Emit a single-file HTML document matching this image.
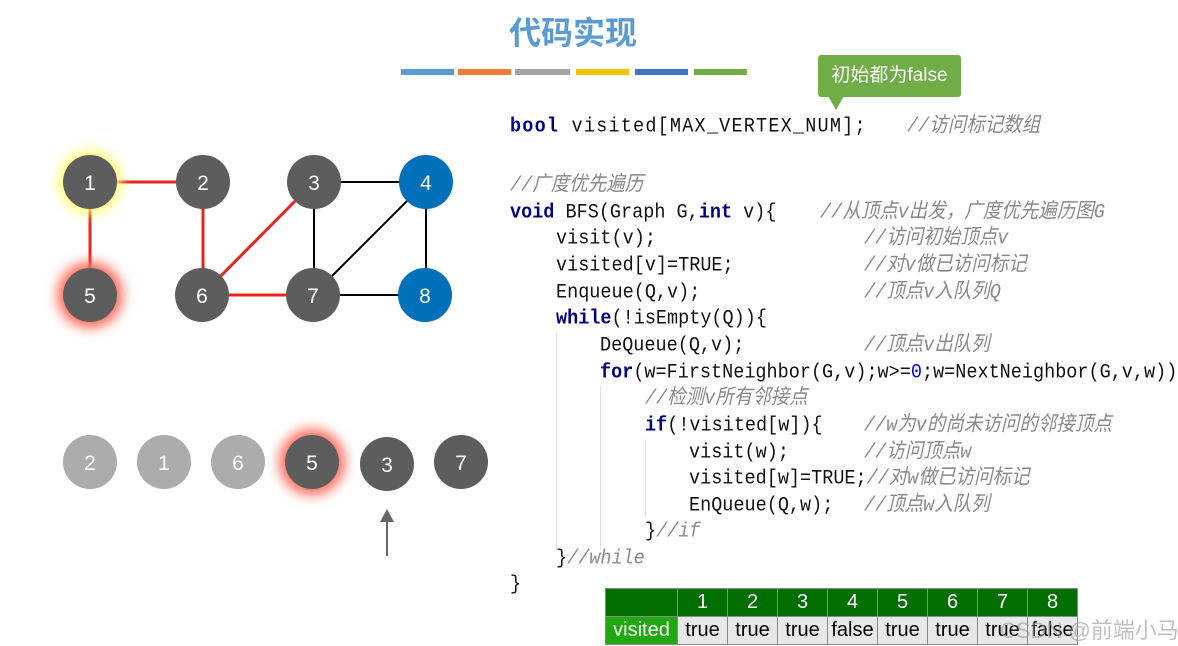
<!DOCTYPE html>
<html><head><meta charset="utf-8"><style>
body{margin:0;width:1178px;height:646px;background:#fff;position:relative;overflow:hidden;font-family:"Liberation Sans","Noto Sans CJK SC",sans-serif}
.t{position:absolute;white-space:pre;font-family:"Liberation Mono","Noto Sans CJK SC",monospace;font-size:18.5px;color:#111;line-height:22px;transform:scaleY(1.12);transform-origin:left center}
.k{color:#000080;font-weight:bold}
.c{color:#8a8a8a;font-style:italic;font-family:"Liberation Mono","Noto Sans CJK SC",monospace}
.g{position:absolute;width:1px;background:#e2e2e2}
table{position:absolute;left:605px;top:588px;border-collapse:collapse;font-size:20px}
td{border:1px solid #8a8a8a;height:27px;padding:0;text-align:center;width:49px}
</style></head><body>
<div style="position:absolute;left:0;width:1146px;top:8px;text-align:center;font-size:32px;font-weight:bold;color:#5b9bd5;font-family:'Noto Sans CJK SC',sans-serif">代码实现</div>
<div style="position:absolute;top:69px;left:401px;width:53px;height:6px;background:#5b9bd5"></div>
<div style="position:absolute;top:69px;left:458px;width:53px;height:6px;background:#ed7d31"></div>
<div style="position:absolute;top:69px;left:515px;width:55px;height:6px;background:#a5a5a5"></div>
<div style="position:absolute;top:69px;left:576px;width:53px;height:6px;background:#ffc000"></div>
<div style="position:absolute;top:69px;left:635px;width:53px;height:6px;background:#4472c4"></div>
<div style="position:absolute;top:69px;left:694px;width:53px;height:6px;background:#70ad47"></div>
<div style="position:absolute;left:818px;top:55px;width:143px;height:42px;background:#70ad47;border-radius:3px;color:#fff;font-size:19px;line-height:42px;text-align:center;font-family:'Liberation Sans','Noto Sans CJK SC',sans-serif">初始都为false</div>
<div style="position:absolute;left:828px;top:96px;width:0;height:0;border-left:8px solid transparent;border-right:8px solid transparent;border-top:14px solid #70ad47"></div>

<div class="g" style="left:556px;top:332px;height:218px"></div>
<div class="g" style="left:600px;top:386px;height:164px"></div>
<div class="g" style="left:645px;top:439px;height:78px"></div>

<div class="t" style="left:510px;top:116px;letter-spacing:1.2px"><span class="k">bool</span> visited[MAX_VERTEX_NUM];</div><div class="t c" style="left:907px;top:116px">//访问标记数组</div>
<div class="t c" style="left:510px;top:175px">//广度优先遍历</div>
<div class="t" style="left:510px;top:202px"><span class="k">void</span> BFS(Graph G,<span class="k">int</span> v){</div><div class="t c" style="left:820px;top:202px">//从顶点v出发，广度优先遍历图G</div>
<div class="t" style="left:556px;top:228px">visit(v);</div><div class="t c" style="left:864px;top:228px">//访问初始顶点v</div>
<div class="t" style="left:556px;top:255px">visited[v]=TRUE;</div><div class="t c" style="left:864px;top:255px">//对v做已访问标记</div>
<div class="t" style="left:556px;top:282px">Enqueue(Q,v);</div><div class="t c" style="left:864px;top:282px">//顶点v入队列Q</div>
<div class="t" style="left:556px;top:308px"><span class="k">while</span>(!isEmpty(Q)){</div>
<div class="t" style="left:600px;top:335px">DeQueue(Q,v);</div><div class="t c" style="left:864px;top:335px">//顶点v出队列</div>
<div class="t" style="left:600px;top:362px"><span class="k">for</span>(w=FirstNeighbor(G,v);w&gt;=<span style="color:#0000ff">0</span>;w=NextNeighbor(G,v,w))</div>
<div class="t c" style="left:645px;top:388px">//检测v所有邻接点</div>
<div class="t" style="left:645px;top:415px"><span class="k">if</span>(!visited[w]){</div><div class="t c" style="left:864px;top:415px">//w为v的尚未访问的邻接顶点</div>
<div class="t" style="left:689px;top:442px">visit(w);</div><div class="t c" style="left:864px;top:442px">//访问顶点w</div>
<div class="t" style="left:689px;top:468px">visited[w]=TRUE;<span class="c">//对w做已访问标记</span></div>
<div class="t" style="left:689px;top:495px">EnQueue(Q,w);</div><div class="t c" style="left:864px;top:495px">//顶点w入队列</div>
<div class="t" style="left:645px;top:521px">}<span class="c">//if</span></div>
<div class="t" style="left:556px;top:548px">}<span class="c">//while</span></div>
<div class="t" style="left:510px;top:574px">}</div>

<svg style="position:absolute;left:0;top:0" width="520" height="600">
<defs>
<filter id="gy" x="-1" y="-1" width="3" height="3"><feGaussianBlur stdDeviation="6"/></filter>
</defs>
<g stroke-width="3" stroke="#e8251c">
<line x1="90" y1="182" x2="203" y2="182"/><line x1="90" y1="182" x2="90" y2="295"/>
<line x1="203" y1="182" x2="203" y2="295"/><line x1="202" y1="295" x2="314" y2="182"/>
<line x1="202" y1="295" x2="313" y2="295"/></g>
<g stroke-width="2" stroke="#000">
<line x1="314" y1="182" x2="426" y2="182"/><line x1="314" y1="182" x2="314" y2="295"/>
<line x1="426" y1="182" x2="313" y2="295"/><line x1="426" y1="182" x2="426" y2="295"/>
<line x1="313" y1="295" x2="425" y2="295"/></g>
<circle cx="90" cy="182" r="31" fill="#ffff66" filter="url(#gy)"/>
<circle cx="90" cy="295" r="33" fill="#ff6a5a" filter="url(#gy)"/>
<circle cx="312" cy="462" r="33" fill="#ff6a5a" filter="url(#gy)"/>
<g fill="#5d5d5d">
<circle cx="90" cy="182" r="27"/><circle cx="203" cy="182" r="27"/><circle cx="314" cy="182" r="27"/>
<circle cx="90" cy="295" r="27"/><circle cx="202" cy="295" r="27"/><circle cx="313" cy="295" r="27"/>
<circle cx="312" cy="462" r="27"/><circle cx="387" cy="464" r="27"/><circle cx="461" cy="462" r="27"/></g>
<circle cx="426" cy="182" r="27" fill="#0070ba"/><circle cx="425" cy="295" r="27" fill="#0070ba"/>
<g fill="#acacac"><circle cx="90" cy="462" r="27"/><circle cx="164" cy="462" r="27"/><circle cx="238" cy="462" r="27"/></g>
<g fill="#fff" font-size="21" text-anchor="middle" font-family="Liberation Sans,sans-serif">
<text x="90" y="190">1</text><text x="203" y="190">2</text><text x="314" y="190">3</text><text x="426" y="190">4</text>
<text x="90" y="303">5</text><text x="202" y="303">6</text><text x="313" y="303">7</text><text x="425" y="303">8</text>
<text x="90" y="470">2</text><text x="164" y="470">1</text><text x="238" y="470">6</text><text x="312" y="470">5</text><text x="387" y="472">3</text><text x="461" y="470">7</text></g>
<line x1="387" y1="556" x2="387" y2="518" stroke="#666" stroke-width="2"/>
<polygon points="380,522 394,522 387,509" fill="#666"/>
</svg>

<table>
<tr style="background:#006e00;color:#fff"><td style="width:71px"></td><td>1</td><td>2</td><td>3</td><td>4</td><td>5</td><td>6</td><td>7</td><td>8</td></tr>
<tr style="background:#e8e8e8;color:#000"><td style="background:#1fa80f;color:#fff;width:71px">visited</td><td>true</td><td>true</td><td>true</td><td>false</td><td>true</td><td>true</td><td>true</td><td>false</td></tr>
</table>
<div style="position:absolute;left:1000px;top:613px;font-size:22px;white-space:nowrap;color:rgba(150,150,150,0.6);font-family:'Liberation Sans','Noto Sans CJK SC',sans-serif">CSDN @前端小马</div>
</body></html>
